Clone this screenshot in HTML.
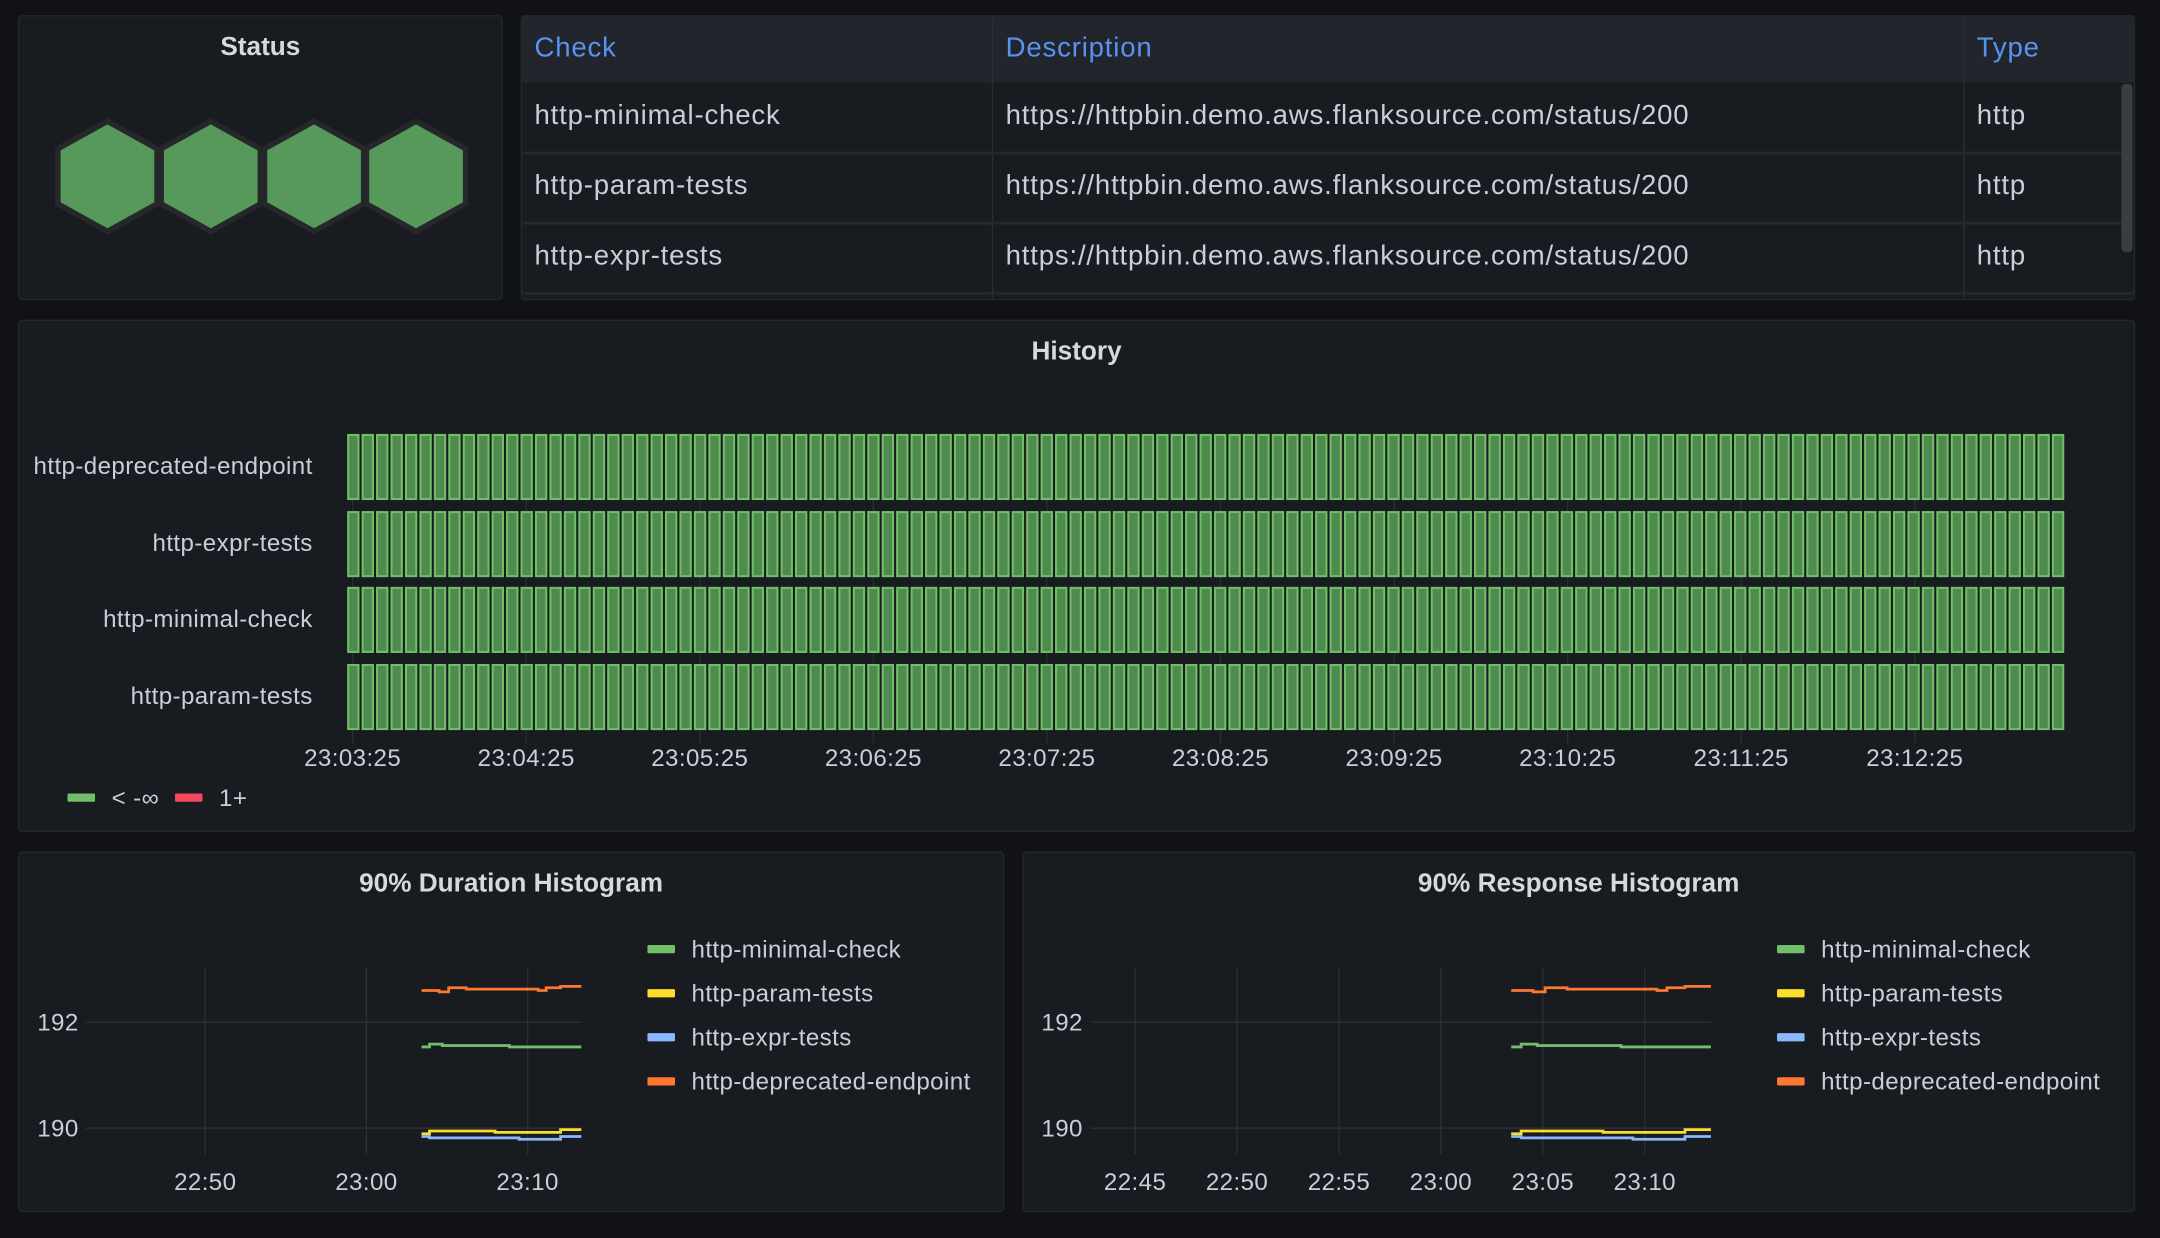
<!DOCTYPE html>
<html><head><meta charset="utf-8">
<style>
html,body{margin:0;padding:0;background:#111217;overflow:hidden;}
#root{position:absolute;left:0;top:0;width:1568px;height:899px;transform:scale(1.377551);transform-origin:0 0;font-family:"Liberation Sans",sans-serif;color:#ccccdc;}
.panel{position:absolute;background:#181b1f;border:1px solid #25272d;border-radius:3px;box-sizing:border-box;}
.title{position:absolute;left:0;right:0;text-align:center;font-size:19px;font-weight:bold;color:#d8d9e0;}
.t{position:absolute;white-space:nowrap;font-size:20px;letter-spacing:0.6px;}
</style></head><body>
<div id="root">
<div class="panel" style="left:13px;top:11px;width:352px;height:207px;">
  <div class="title" style="top:12px;">Status</div>
  <svg style="position:absolute;left:0;top:0" width="352" height="207" id="hex"></svg>
</div>
<div class="panel" style="left:378px;top:11px;width:1172px;height:207px;overflow:hidden;">
  <div style="position:absolute;left:0;top:0;right:0;height:48px;background:#22252b;"></div>
  <div style="position:absolute;left:341px;top:0;bottom:0;width:1px;background:#2a2d33"></div>
  <div style="position:absolute;left:1046px;top:0;bottom:0;width:1px;background:#2a2d33"></div>
  <div style="position:absolute;left:0;right:0;top:98px;height:2px;background:#25282e"></div>
  <div style="position:absolute;left:0;right:0;top:149px;height:2px;background:#25282e"></div>
  <div style="position:absolute;left:0;right:0;top:200px;height:2px;background:#25282e"></div>
  <div style="position:absolute;left:1161px;top:49px;width:8px;height:122px;background:#3a3d44;border-radius:3px"></div>
  <div class="t" style="left:9px;top:12px;color:#5794f2">Check</div>
  <div class="t" style="left:351px;top:12px;color:#5794f2">Description</div>
  <div class="t" style="left:1056px;top:12px;color:#5794f2">Type</div>
  <div class="t" style="left:9px;top:61px">http-minimal-check</div>
  <div class="t" style="left:351px;top:61px">https://httpbin.demo.aws.flanksource.com/status/200</div>
  <div class="t" style="left:1056px;top:61px">http</div>
  <div class="t" style="left:9px;top:112px">http-param-tests</div>
  <div class="t" style="left:351px;top:112px">https://httpbin.demo.aws.flanksource.com/status/200</div>
  <div class="t" style="left:1056px;top:112px">http</div>
  <div class="t" style="left:9px;top:163px">http-expr-tests</div>
  <div class="t" style="left:351px;top:163px">https://httpbin.demo.aws.flanksource.com/status/200</div>
  <div class="t" style="left:1056px;top:163px">http</div>
</div>
<div class="panel" style="left:13px;top:232px;width:1537px;height:372px;">
  <div class="title" style="top:12px;">History</div>
</div>
<svg id="hist" style="position:absolute;left:0;top:0" width="1568" height="899"></svg>
<div class="panel" style="left:13px;top:618px;width:716px;height:262px;">
  <div class="title" style="top:12px;">90% Duration Histogram</div>
</div>
<div class="panel" style="left:742px;top:618px;width:808px;height:262px;">
  <div class="title" style="top:12px;">90% Response Histogram</div>
</div>
<svg id="ts" style="position:absolute;left:0;top:0" width="1568" height="899"></svg>
</div>
<script>
var NS="http://www.w3.org/2000/svg";
var FS=17.5,LS='0.3px';
function el(p,tag,a,txt){var e=document.createElementNS(NS,tag);for(var k in a)e.setAttribute(k,a[k]);if(txt!=null)e.textContent=txt;p.appendChild(e);return e;}
function tx(p,x,y,s,anchor){return el(p,'text',{x:x,y:y,'text-anchor':anchor||'start','font-size':FS,'letter-spacing':LS,fill:'#ccccdc','font-family':'Liberation Sans'},s);}
var hex=document.getElementById('hex');
[64,139,214,288].forEach(function(cx){var cy=116,w=36,h=40;
 el(hex,'polygon',{points:[cx,cy-h,cx+w,cy-h/2,cx+w,cy+h/2,cx,cy+h,cx-w,cy+h/2,cx-w,cy-h/2].join(' '),fill:'#56995a',stroke:'#25272b','stroke-width':4});});
var H=document.getElementById('hist');
var labels=['http-deprecated-endpoint','http-expr-tests','http-minimal-check','http-param-tests'];
var ys=[315,371,426,482];
var N=119,x0=252,x1=1500,p=(x1-x0)/N;
[256,382,508,634,760,886,1012,1138,1264,1390].forEach(function(x,i){
 el(H,'line',{x1:x,x2:x,y1:315,y2:540,stroke:'#2a2d33','stroke-width':1});
 var lab=['23:03:25','23:04:25','23:05:25','23:06:25','23:07:25','23:08:25','23:09:25','23:10:25','23:11:25','23:12:25'][i];
 tx(H,x,556,lab,'middle');});
ys.forEach(function(y,r){
 tx(H,227,y+29,labels[r],'end');
 for(var i=0;i<N;i++){el(H,'rect',{x:x0+i*p+0.75,y:y+0.75,width:p-3,height:46.5,fill:'#4f8a4e',stroke:'#6fbf66','stroke-width':1.5});}
});
el(H,'rect',{x:49,y:576,width:20,height:6,fill:'#73bf69',rx:1});
tx(H,81,585,'< -∞');
el(H,'rect',{x:127,y:576,width:20,height:6,fill:'#f2495c',rx:1});
tx(H,159,585,'1+');
var T=document.getElementById('ts');
var cols=['#73bf69','#fade2a','#8ab8ff','#ff7832'],names=['http-minimal-check','http-param-tests','http-expr-tests','http-deprecated-endpoint'];
var shapes={
 o:[[0,719],[0.1,719],[0.11,720],[0.16,720],[0.17,717],[0.27,717],[0.28,718],[0.72,718],[0.73,719],[0.77,719],[0.78,717],[0.86,717],[0.87,716],[1,716]],
 g:[[0,760],[0.04,760],[0.05,758],[0.12,758],[0.13,759],[0.54,759],[0.55,760],[1,760]],
 y:[[0,823],[0.04,823],[0.05,821],[0.45,821],[0.46,822],[0.86,822],[0.87,820],[1,820]],
 b:[[0,825],[0.04,825],[0.05,826],[0.6,826],[0.61,827],[0.86,827],[0.87,825],[1,825]]};
function chart(px0,px1,lx0,lx1,vx,vlab,yl,legx){
 [742,819].forEach(function(y,i){el(T,'line',{x1:px0,x2:px1,y1:y,y2:y,stroke:'#2c2f35'});
  tx(T,yl,y+6,i?'190':'192');});
 vx.forEach(function(x,i){el(T,'line',{x1:x,x2:x,y1:702,y2:838,stroke:'#2c2f35'});
  tx(T,x,864,vlab[i],'middle');});
 [['g',0],['y',1],['b',2],['o',3]].forEach(function(s){
  var pts=[],sh=shapes[s[0]],prev=null;
  sh.forEach(function(q){var x=lx0+q[0]*(lx1-lx0);if(prev!==null)pts.push(x+','+prev);pts.push(x+','+q[1]);prev=q[1];});
  el(T,'polyline',{points:pts.join(' '),fill:'none',stroke:cols[s[1]],'stroke-width':2});});
 names.forEach(function(n,i){var y=689+i*32;
  el(T,'rect',{x:legx,y:y-3,width:20,height:6,fill:cols[i],rx:1});
  tx(T,legx+32,y+6,n);});
}
chart(62,422,306,422,[149,266,383],['22:50','23:00','23:10'],27,470);
chart(792,1242,1097,1242,[824,898,972,1046,1120,1194],['22:45','22:50','22:55','23:00','23:05','23:10'],756,1290);
</script>
</body></html>
